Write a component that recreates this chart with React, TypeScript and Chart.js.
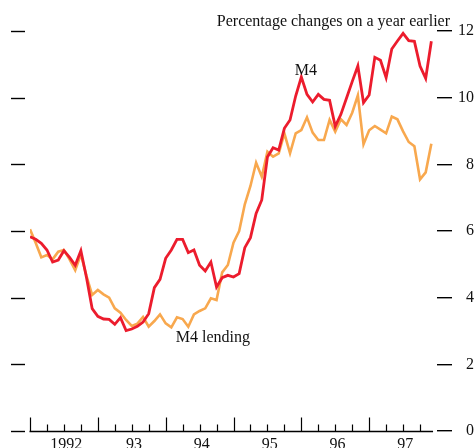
import React, { useEffect, useRef } from "react";
import { Chart, registerables } from "chart.js";

Chart.register(...registerables);

// Monthly observations, Jan 1992 (index 0) to Dec 1997 (index 71)
const m4Growth: number[] = [
  5.83, 5.75, 5.63, 5.43, 5.07, 5.13, 5.41, 5.21, 4.97, 5.41, 4.6, 3.67,
  3.44, 3.36, 3.35, 3.2, 3.4, 3.01, 3.06, 3.14, 3.27, 3.52, 4.3, 4.55,
  5.18, 5.43, 5.75, 5.75, 5.35, 5.43, 4.97, 4.8, 5.07, 4.32, 4.6, 4.67,
  4.62, 4.72, 5.5, 5.8, 6.53, 6.93, 8.22, 8.5, 8.43, 9.08, 9.33, 10.05,
  10.62, 10.1, 9.87, 10.1, 9.95, 9.92, 9.14, 9.5, 9.99, 10.48, 10.95, 9.85,
  10.08, 11.21, 11.12, 10.6, 11.46, 11.7, 11.93, 11.71, 11.69, 10.95, 10.58, 11.69,
];

const m4LendingGrowth: number[] = [
  6.05, 5.65, 5.21, 5.28, 5.15, 5.38, 5.43, 5.15, 4.82, 5.3, 4.65, 4.08,
  4.23, 4.1, 4.0, 3.68, 3.55, 3.33, 3.15, 3.22, 3.42, 3.13, 3.3, 3.5,
  3.23, 3.11, 3.41, 3.36, 3.13, 3.5, 3.6, 3.68, 3.98, 3.93, 4.76, 4.98,
  5.65, 6.0, 6.8, 7.35, 8.05, 7.63, 8.38, 8.23, 8.33, 8.93, 8.33, 8.93,
  9.03, 9.41, 8.95, 8.73, 8.73, 9.33, 8.98, 9.35, 9.18, 9.55, 10.07, 8.6,
  9.02, 9.15, 9.04, 8.93, 9.43, 9.35, 8.99, 8.67, 8.54, 7.55, 7.76, 8.62,
];

const yearLabels: string[] = ["1992", "93", "94", "95", "96", "97"];
const yTickValues: number[] = [0, 2, 4, 6, 8, 10, 12];

const titleText = "Percentage changes on a year earlier";
const m4Label = "M4";
const lendingLabel = "M4 lending";

const FONT = '"Liberation Serif", "Times New Roman", Times, serif';
const RED = "#EC1C2D";
const ORANGE = "#F8A84E";

const decorPlugin = {
  id: "decor",
  afterDraw(chart: any) {
    const { ctx, chartArea } = chart;
    const x = chart.scales.x;
    const y = chart.scales.y;
    ctx.save();
    ctx.strokeStyle = "#000";
    // left dashes
    ctx.lineWidth = 1.4;
    y.ticks.forEach((t: any) => {
      const py = Math.round(y.getPixelForValue(t.value)) + 0.5;
      ctx.beginPath();
      ctx.moveTo(chartArea.left - 19, py);
      ctx.lineTo(chartArea.left - 5, py);
      ctx.stroke();
    });
    // baseline
    const y0 = Math.round(y.getPixelForValue(0)) + 0.5;
    ctx.beginPath();
    ctx.moveTo(x.getPixelForValue(0) - 0.5, y0);
    ctx.lineTo(x.getPixelForValue(71.3), y0);
    ctx.stroke();
    // quarter / year ticks
    ctx.lineWidth = 1.2;
    for (let m = 0; m < 72; m += 3) {
      const px = Math.round(x.getPixelForValue(m)) + 0.5;
      const len = m % 12 === 0 ? 14 : 7;
      ctx.beginPath();
      ctx.moveTo(px, y0);
      ctx.lineTo(px, y0 - len);
      ctx.stroke();
    }
    // texts
    ctx.fillStyle = "#111";
    ctx.font = `16px ${FONT}`;
    ctx.textBaseline = "alphabetic";
    ctx.textAlign = "right";
    ctx.fillText(titleText, x.getPixelForValue(74.3), y.getPixelForValue(12.14));
    ctx.textAlign = "center";
    ctx.fillText(m4Label, x.getPixelForValue(48.8), y.getPixelForValue(10.67));
    ctx.textAlign = "left";
    ctx.fillText(lendingLabel, x.getPixelForValue(25.8), y.getPixelForValue(2.67));
    ctx.restore();
  },
};

export default function App() {
  const ref = useRef<HTMLCanvasElement | null>(null);

  useEffect(() => {
    if (!ref.current) return;
    const toPoints = (arr: number[]) => arr.map((v, i) => ({ x: i, y: v }));
    const chart = new Chart(ref.current, {
      type: "line",
      data: {
        datasets: [
          {
            label: m4Label,
            data: toPoints(m4Growth),
            borderColor: RED,
            borderWidth: 2.8,
            pointRadius: 0,
            tension: 0,
            yAxisID: "y",
          },
          {
            label: lendingLabel,
            data: toPoints(m4LendingGrowth),
            borderColor: ORANGE,
            borderWidth: 2.6,
            pointRadius: 0,
            tension: 0,
            yAxisID: "y",
          },
        ],
      },
      options: {
        animation: false,
        responsive: false,
        devicePixelRatio: 1,
        layout: { padding: { left: 30, top: 31, right: 0, bottom: 0 } },
        plugins: { legend: { display: false }, tooltip: { enabled: false }, title: { display: false } },
        scales: {
          x: {
            type: "linear",
            position: "bottom",
            min: 0,
            max: 72,
            grid: { display: false, drawTicks: false },
            border: { display: false },
            afterBuildTicks: (s: any) => {
              s.ticks = yearLabels.map((_, i) => ({ value: i * 12 + 6.4 }));
            },
            afterFit: (s: any) => {
              s.height = 17;
            },
            ticks: {
              autoSkip: false,
              maxRotation: 0,
              padding: 4,
              color: "#111",
              font: { family: FONT, size: 16 },
              callback: (v: any) => yearLabels[Math.floor(Number(v) / 12)] ?? "",
            },
          },
          y: {
            type: "linear",
            position: "right",
            min: 0,
            max: 12,
            afterBuildTicks: (s: any) => {
              s.ticks = yTickValues.map((v) => ({ value: v }));
            },
            afterFit: (s: any) => {
              s.width = 37;
            },
            grid: {
              drawOnChartArea: false,
              drawTicks: true,
              tickLength: 15,
              color: "#000",
              lineWidth: 1.4,
            },
            border: { display: false },
            ticks: {
              padding: 5,
              crossAlign: "far",
              color: "#111",
              font: { family: FONT, size: 16 },
            },
          },
        },
      },
      plugins: [decorPlugin],
    });
    return () => chart.destroy();
  }, []);

  return (
    <div style={{ position: "fixed", left: 0, top: 0, width: 474, height: 448, background: "#fff" }}>
      <canvas ref={ref} width={474} height={448} style={{ display: "block" }} />
    </div>
  );
}
